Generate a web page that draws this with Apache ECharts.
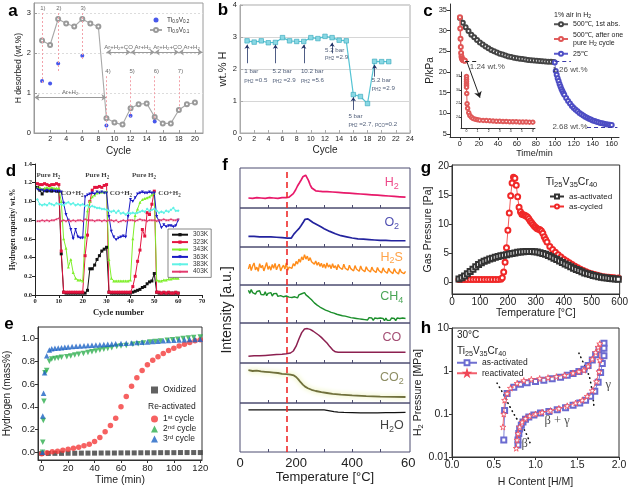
<!DOCTYPE html>
<html>
<head>
<meta charset="utf-8">
<script src="https://cdn.jsdelivr.net/npm/echarts@6.0.0/dist/echarts.min.js"></script>
<style>
html,body{margin:0;padding:0;background:#fff;}
#chart{width:631px;height:490px;}
</style>
</head>
<body>
<div id="chart"></div>
<script>
const FONT = '"Liberation Sans", Arial, Helvetica, sans-serif';
const SERIF = '"Liberation Serif", "Times New Roman", serif';
const STAR = 'path://M50,0L61,35L98,35L68,57L79,91L50,70L21,91L32,57L2,35L39,35Z';

/* ================= DATA ================= */
// ---- a ----
const aCycle = [1,2,3,4,5,6,7,8,9,10,11,12,13,14,15,16,17,18,19,20];
const aTiV01 = [2.31,2.20,2.85,2.74,2.66,2.85,2.74,2.66,0.37,0.26,0.21,0.62,0.72,0.74,0.40,0.24,0.24,0.575,0.72,0.76];
const aTiV02Cycle = [1,2,3,6,9,12,15];
const aTiV02 = [1.30,1.24,1.74,1.93,0.19,0.43,0.29];
const aXTicks = [2,4,6,8,10,12,14,16,18,20];
const aYTicks = [0,1,2,3];
const aCycleMarks = [[1,3.0,1.2],[3,3.0,1.5],[6,3.0,1.8],[9,1.42,0.04],[12,1.42,0.4],[15,1.42,0.33],[18,1.42,0.58]];
const aGasArrows = [[0.05,9,0.89],[9,12,2.02],[12,15,2.02],[15,18,2.02],[18,20.95,2.02]];
const aNotes = [[1.1,3.12,'1)'],[3.1,3.12,'2)'],[6.1,3.12,'3)'],[9.2,1.53,'4)'],[12.2,1.53,'5)'],[15.2,1.53,'6)'],[18.2,1.53,'7)'],
  [4.5,1.02,'Ar+H{s|2}'],[10.5,2.15,'Ar+H{s|2}+CO'],[13.5,2.15,'Ar+H{s|2}'],[16.6,2.15,'Ar+H{s|2}+CO'],[19.6,2.15,'Ar+H{s|2}']];

// ---- b ----
const bCycle = [1,2,3,4,5,6,7,8,9,10,11,12,13,14,15,16,17,18,19,20,21];
const bWtH = [2.88,2.84,2.88,2.82,2.83,2.98,2.88,2.86,2.86,2.98,2.95,3.02,2.98,2.90,2.88,1.20,1.14,0.92,2.24,2.23,2.23];
const bArrows = [[1,2.18,2.76],[5,2.18,2.76],[9,2.18,2.76],[13,2.49,2.82],[16,0.72,1.12],[19,1.76,2.13]];
const bNotes = [[0.6,1.94,'1 bar','left'],[0.6,1.66,'p{s|H2} =0.5','left'],
  [4.6,1.94,'5.2 bar','left'],[4.6,1.66,'p{s|H2} =2.9','left'],
  [8.6,1.94,'10.2 bar','left'],[8.6,1.66,'p{s|H2} =5.6','left'],
  [12.0,2.58,'5.2 bar','left'],[12.0,2.37,'p{s|H2} =2.9','left'],
  [15.3,0.51,'5 bar','left'],[15.3,0.28,'p{s|H2} =2.7, p{s|CO}=0.2','left'],
  [18.6,1.66,'5.2 bar','left'],[18.6,1.40,'p{s|H2} =2.9','left']];

// ---- c ----
const cAbs1st = [[0,33.0],[3,31.9],[6,30.8],[9,29.9],[12,29.0],[15,28.35],[18,27.7],[21,27.1],[24,26.6],[27,26.15],[30,25.7],[33,25.3],[36,25.0],[39,24.7],[42,24.4],[45,24.2],[48,23.95],[51,23.75],[54,23.6],[57,23.45],[60,23.3],[63,23.2],[66,23.1],[69,22.98],[72,22.9],[75,22.82],[78,22.75],[81,22.68],[84,22.62],[87,22.57],[90,22.52],[93,22.48],[96,22.45],[99,22.42]];
const cAfterCycle = [[0,33.2],[0.3,30.5],[0.6,28.0],[0.9,26.0],[1.2,24.6],[1.6,23.7],[2.0,23.3],[2.6,23.0],[3.2,22.9],[3.8,22.8],[4.5,22.75],[5.2,22.7]];
const c25C = [[100,22.3],[101,20.2],[102,19.3],[103,18.5],[104,17.8],[105,17.1],[106,16.5],[107,15.9],[108,15.4],[109,14.9],[110,14.5],[112,13.7],[114,13.0],[116,12.4],[118,11.8],[120,11.3],[122,10.9],[124,10.5],[126,10.1],[128,9.8],[130,9.5],[132,9.2],[134,8.95],[136,8.7],[138,8.5],[140,8.3],[142,8.15],[144,8.0],[146,7.85],[148,7.7],[150,7.6],[152,7.5],[154,7.4],[156,7.3],[158,7.25],[160,7.2]];
const cInset = [[0,33.0],[0,32.4],[0,31.9],[0,31.4],[0,31.0],[0,30.6],[0.02,29.2],[0.05,26.9],[0.1,25.9],[0.2,24.9],[0.3,24.3],[0.45,23.9],[0.6,23.6],[0.8,23.45],[1.0,23.35],[1.2,23.25],[1.5,23.2],[1.8,23.15],[2.1,23.1],[2.4,23.05],[2.7,23.0],[3.0,23.0],[3.3,22.95],[3.6,22.95],[3.9,22.9],[4.2,22.9],[4.5,22.9],[4.8,22.85],[5.1,22.85],[5.4,22.85],[5.7,22.8],[6.0,22.8]];
const cXTicks = [0,20,40,60,80,100,120,140,160];
const cYTicks = [5,10,15,20,25,30,35];
const cInsetXTicks = [0,1,2,3,4,5,6];
const cInsetYTicks = [24,27,30,33];
const cDashes = [[5.5,18,22.7,'#222'],[100.5,117,22.5,'#3a3aa8'],[134,166,6.6,'#3a3aa8']];
const cArrow = [[7.1,22.6],[21.1,13.8]];
const cNotes = [[28.8,21.3,'1.24 wt.%'],[116,20.6,'1.26 wt.%'],[116,6.8,'2.68 wt.%']];

// ---- d ----
const d303 = [1.15,1.12,1.08,1.12,1.11,1.12,1.11,1.12,1.11,1.11, 0.44,0.03,0.02,0.02,0.02,0.02,0.02,0.02,0.02,0.02, 0.02,0.05,0.28,0.28,0.32,0.38,0.42,0.47,0.49,0.51, 0.03,0.02,0.02,0.02,0.02,0.02,0.02,0.02,0.02,0.02, 0.03,0.04,0.05,0.06,0.08,0.09,0.12,0.14,0.15,0.23, 0.03,0.02,0.02,0.02,0.02,0.02,0.02,0.02,0.02,0.02];
const d323 = [1.19,1.18,1.18,1.19,1.18,1.17,1.18,1.18,1.19,1.18, 0.47,0.03,0.03,0.03,0.03,0.03,0.03,0.03,0.03,0.03, 0.42,0.64,1.00,1.12,1.15,1.15,1.16,1.15,1.17,1.18, 0.03,0.03,0.03,0.03,0.03,0.03,0.03,0.03,0.03,0.03, 0.09,0.20,0.36,0.48,0.70,0.63,0.88,0.86,0.97,1.11, 0.03,0.03,0.02,0.03,0.02,0.03,0.02,0.02,0.03,0.02];
const d343 = [1.15,1.15,1.13,1.14,1.15,1.14,1.15,1.14,1.14,1.14, 1.00,0.60,0.50,0.30,0.38,0.24,0.18,0.16,0.16,0.15, 0.62,0.90,1.00,1.05,1.07,1.09,1.10,1.10,1.10,1.11, 0.38,0.18,0.15,0.15,0.15,0.15,0.15,0.15,0.15,0.16, 0.60,0.85,0.92,0.99,1.02,1.03,1.04,1.05,1.07,1.09, 0.16,0.15,0.15,0.16,0.16,0.17,0.17,0.18,0.18,0.18];
const d363 = [1.13,1.12,1.12,1.11,1.12,1.11,1.12,1.11,1.11,1.11, 1.10,0.98,0.86,0.80,0.70,0.60,0.70,0.62,0.61,0.61, 1.05,1.07,1.08,1.09,1.08,1.10,1.09,1.10,1.09,1.09, 0.84,0.68,0.62,0.59,0.61,0.62,0.63,0.62,0.84,1.02, 1.00,1.04,1.08,1.09,1.10,1.09,1.09,1.10,1.09,1.09, 0.84,0.79,0.72,0.75,0.73,0.74,0.74,0.73,0.74,0.80];
const d383 = [1.02,0.97,0.96,0.97,0.96,0.98,0.97,0.96,0.98,0.97, 0.97,0.96,0.98,0.99,0.97,0.98,0.96,0.97,0.96,0.97, 0.95,0.96,0.94,0.95,0.94,0.93,0.93,0.92,0.92,0.91, 0.90,0.89,0.90,0.88,0.90,0.87,0.88,0.86,0.88,0.87, 0.88,0.87,0.88,0.89,0.90,0.89,0.92,0.90,0.91,0.92, 0.90,0.88,0.89,0.88,0.90,0.89,0.91,0.93,0.90,0.90];
const d403 = [0.79,0.79,0.80,0.79,0.80,0.79,0.80,0.80,0.81,0.82, 0.79,0.80,0.79,0.80,0.79,0.80,0.79,0.80,0.80,0.79, 0.81,0.80,0.80,0.80,0.79,0.80,0.80,0.79,0.80,0.79, 0.80,0.80,0.79,0.80,0.78,0.79,0.80,0.79,0.80,0.80, 0.80,0.79,0.80,0.81,0.80,0.80,0.79,0.80,0.80,0.80, 0.79,0.80,0.80,0.81,0.80,0.80,0.81,0.80,0.80,0.81];
const dNotes = [[5.6,1.28,'Pure H{s|2}'],[26.1,1.28,'Pure H{s|2}'],[45.7,1.28,'Pure H{s|2}'],[15.6,1.087,'CO+H{s|2}'],[36.0,1.087,'CO+H{s|2}'],[56.4,1.087,'CO+H{s|2}']];

// ---- e ----
const eOxT = [0,5,10,15,20,25,30,35,40,45,50,55,60,65,70,75,80,85,90,95,100,105,110,115,120];
const eOx = [-0.010,-0.010,-0.009,-0.009,-0.008,-0.008,-0.007,-0.007,-0.007,-0.006,-0.006,-0.006,-0.005,-0.005,-0.005,-0.004,-0.004,-0.004,-0.003,-0.003,-0.003,-0.002,-0.002,-0.002,-0.002];
const e1stT = [0,4,8,12,16,20,24,28,32,36,40,44,48,52,56,60,64,68,72,76,80,84,88,92,96,100,104,108,112,116,120];
const e1st = [-0.012,-0.004,0.004,0.010,0.018,0.026,0.035,0.045,0.057,0.072,0.095,0.13,0.18,0.235,0.30,0.40,0.49,0.58,0.655,0.72,0.77,0.81,0.84,0.87,0.895,0.915,0.935,0.95,0.965,0.98,0.99];
const e2nd = [[0.6,0.0],[0.8,0.088],[1.2,0.28],[1.7,0.45],[2.5,0.70],[3.8,0.72],[5.8,0.80],[7.6,0.82],[10,0.825],[12.5,0.83],[15,0.835],[19,0.84],[22,0.848],[25,0.856],[28,0.863],[31.6,0.87],[35,0.878],[38,0.885],[41,0.892],[44,0.90],[47,0.907],[50,0.913],[53,0.92],[56.8,0.93],[60,0.934],[64,0.94],[69,0.95],[73,0.955],[77,0.962],[82,0.97],[86,0.974],[90,0.978],[95,0.985],[99,0.99],[103,0.995],[107,1.0],[111,1.005],[115,1.01],[120,1.015]];
const e3rd = [[0.6,0.0],[0.8,0.32],[1.4,0.52],[2.2,0.70],[3.8,0.85],[5.8,0.90],[7.6,0.91],[10,0.915],[12.5,0.918],[15,0.92],[17.5,0.923],[20,0.927],[23,0.93],[26,0.932],[29,0.935],[32,0.937],[35,0.94],[38,0.942],[41,0.944],[44,0.947],[47,0.949],[50,0.951],[53,0.953],[56,0.955],[60,0.957],[64,0.96],[68,0.962],[72,0.965],[76,0.968],[80,0.971],[84,0.974],[88,0.977],[92,0.98],[96,0.983],[100,0.985],[104,0.987],[108,0.989],[112,0.991],[116,0.993],[120,0.994]];
const eXTicks = [0,20,40,60,80,100,120];
const eYTicks = [0,0.2,0.4,0.6,0.8,1.0];

// ---- f (normalised intensity, each gas) ----
const fH2 = [[30,0.25],[45,0.24],[60,0.26],[75,0.25],[90,0.24],[105,0.26],[120,0.25],[135,0.24],[150,0.26],[165,0.26],[175,0.27],[182,0.30],[190,0.36],[198,0.45],[205,0.55],[212,0.63],[218,0.70],[224,0.78],[229,0.83],[234,0.82],[239,0.77],[244,0.69],[250,0.58],[256,0.50],[262,0.46],[270,0.43],[280,0.42],[295,0.41],[310,0.41],[330,0.40],[350,0.39],[370,0.38],[390,0.37],[410,0.36],[430,0.35],[450,0.34],[470,0.33],[490,0.32],[510,0.31],[530,0.30],[550,0.29],[570,0.28],[590,0.27]];
const fO2 = [[30,0.27],[50,0.27],[70,0.26],[90,0.26],[110,0.26],[130,0.25],[150,0.24],[170,0.23],[183,0.23],[188,0.26],[192,0.33],[196,0.37],[202,0.41],[210,0.47],[218,0.55],[226,0.64],[232,0.71],[237,0.74],[242,0.72],[250,0.68],[260,0.63],[270,0.59],[280,0.55],[290,0.51],[300,0.47],[320,0.40],[340,0.34],[360,0.29],[380,0.26],[400,0.23],[420,0.21],[440,0.20],[460,0.19],[480,0.18],[500,0.17],[520,0.17],[540,0.16],[560,0.16],[590,0.16]];
const fH2S = [0.42,0.55,0.38,0.50,0.58,0.40,0.47,0.36,0.56,0.45, 0.52,0.37,0.48,0.59,0.41,0.50,0.39,0.54,0.44,0.57, 0.40,0.49,0.55,0.37,0.46,0.52,0.42,0.58,0.39,0.47, 0.51,0.44,0.56,0.50,0.62,0.55,0.68,0.60,0.74,0.66, 0.80,0.68,0.76,0.64,0.72,0.61,0.66,0.55,0.63,0.52, 0.60,0.49,0.57,0.46,0.55,0.44,0.58,0.47,0.53,0.43, 0.56,0.45,0.51,0.40,0.54,0.46,0.50,0.41,0.55,0.44, 0.49,0.39,0.52,0.43,0.47,0.37,0.51,0.42,0.46,0.36, 0.50,0.41,0.45,0.35,0.48,0.40,0.44,0.34,0.47,0.39, 0.43,0.33,0.46,0.38,0.42,0.32,0.45,0.37,0.41,0.31, 0.44,0.36,0.40,0.30,0.43,0.35,0.39,0.29,0.42,0.34, 0.38,0.30,0.36];
const fCH4 = [0.86,0.78,0.88,0.80,0.84,0.76,0.83,0.79,0.85,0.75, 0.80,0.74,0.82,0.72,0.78,0.75,0.80,0.71,0.77,0.73, 0.78,0.70,0.75,0.72,0.77,0.69,0.74,0.71,0.76,0.68, 0.73,0.67,0.72,0.69,0.71,0.66,0.74,0.70,0.77,0.72, 0.80,0.74,0.76,0.68,0.66,0.61,0.60,0.53,0.55,0.47, 0.50,0.42,0.45,0.38,0.41,0.34,0.38,0.31,0.35,0.28, 0.32,0.26,0.30,0.23,0.28,0.21,0.26,0.19,0.24,0.18, 0.22,0.16,0.21,0.14,0.19,0.13,0.18,0.12,0.17,0.11, 0.16,0.10,0.15,0.09,0.14,0.08,0.14,0.09,0.13,0.07, 0.13,0.08,0.12,0.07,0.13,0.08,0.12,0.06,0.13,0.07, 0.12,0.07,0.13,0.08,0.12,0.06,0.13,0.08,0.12,0.07, 0.13,0.08,0.12];
const fNoisyStart = 30, fNoisyStep = 5;
const fCO = [[30,0.17],[50,0.18],[70,0.18],[90,0.19],[110,0.20],[130,0.21],[150,0.22],[165,0.23],[180,0.25],[190,0.30],[200,0.42],[210,0.60],[220,0.76],[230,0.85],[240,0.86],[250,0.84],[260,0.80],[270,0.75],[280,0.70],[290,0.64],[300,0.57],[310,0.50],[320,0.41],[330,0.33],[340,0.28],[350,0.27],[370,0.27],[400,0.27],[450,0.27],[500,0.27],[550,0.27],[590,0.27]];
const fCO2 = [[30,0.82],[45,0.80],[60,0.81],[75,0.79],[90,0.78],[105,0.77],[120,0.76],[135,0.75],[150,0.73],[165,0.72],[180,0.71],[192,0.69],[200,0.65],[208,0.59],[216,0.52],[224,0.46],[232,0.41],[242,0.37],[255,0.33],[270,0.30],[290,0.27],[310,0.25],[330,0.23],[360,0.21],[400,0.19],[450,0.17],[500,0.16],[550,0.155],[590,0.15]];
const fH2O = [[30,0.86],[100,0.86],[200,0.86],[300,0.86],[310,0.85],[320,0.84],[335,0.825],[350,0.815],[370,0.81],[400,0.805],[430,0.80],[460,0.80],[490,0.80],[520,0.805],[550,0.805],[590,0.81]];
const fOnset = 167;
const fGasLabels = ['H{s|2}','O{s|2}','H{s|2}S','CH{s|4}','CO','CO{s|2}','H{s|2}O'];
const fLabelY = [0.63,0.63,0.73,0.69,0.63,0.63,0.54];
const fXTicks = [0,200,400,600];

// ---- g ----
const gActT = [25,35,45,55,65,75,85,95,105,115,125,135,145,155,165,175,185,195,205,215,225,235,245,255,265,275,285,295,305,315,325,335,345,355,365,375,385,395,405,415,425,435,445,455,465,475,485,495,505,515,525,535,545,555,565,575,585,595];
const gAct = [0.6,0.8,1.1,1.5,1.9,2.3,2.7,3.1,3.4,3.65,3.85,4.05,4.2,4.35,4.5,4.6,4.7,4.8,4.9,5.0,5.1,5.2,5.25,5.3,5.35,5.35,5.35,5.3,5.25,5.15,5.0,4.85,4.65,4.45,4.2,3.95,3.7,3.45,3.2,2.95,2.7,2.45,2.25,2.05,1.85,1.65,1.5,1.35,1.2,1.1,1.0,0.9,0.8,0.75,0.7,0.65,0.6,0.55];
const gCycled = [[25,0.5],[35,0.5],[45,0.5],[55,0.5],[65,0.5],[75,0.5],[85,0.5],[95,0.5],[105,0.5],[115,0.5],[125,0.5],[135,0.5],[145,0.5],[155,0.5],[165,0.5],[175,0.55],[180,0.8],[185,1.8],[190,3.5],[195,6.0],[200,9.0],[205,12.0],[210,15.0],[215,17.2],[220,18.2],[225,18.0],[230,16.8],[235,14.8],[240,13.0],[245,12.2],[250,11.8],[255,11.7],[260,11.6],[265,11.5],[270,11.3],[275,11.0],[280,10.6],[285,10.3],[290,10.0],[295,9.7],[300,9.5],[305,9.3],[310,9.2],[315,9.1],[320,8.9],[325,8.5],[330,7.9],[335,7.4],[340,7.0],[350,6.2],[360,5.7],[370,5.2],[380,4.8],[390,4.4],[400,4.0],[410,3.7],[420,3.4],[430,3.1],[440,2.8],[450,2.55],[460,2.3],[470,2.05],[480,1.85],[490,1.65],[500,1.5],[510,1.35],[520,1.22],[530,1.1],[540,1.0],[550,0.95],[560,0.9],[570,0.85],[580,0.8],[595,0.75]];
const gYTicks = [0,5,10,15,20];

// ---- h ----
const hActivated = [[0.62,0.025],[0.63,0.12],[0.66,0.30],[0.74,0.42],[0.82,0.49],[0.90,0.53],[1.00,0.57],[1.10,0.61],[1.20,0.66],[1.30,0.72],[1.38,0.80],[1.45,0.88],[1.52,0.97],[1.58,1.10],[1.63,1.35],[1.68,1.80],[1.72,2.40],[1.76,3.10],[1.80,3.60],[1.82,4.40],[1.82,3.40],[1.82,2.25],[1.80,1.50],[1.78,0.92],[1.75,0.55],[1.71,0.34],[1.66,0.26],[1.60,0.21],[1.53,0.18],[1.45,0.16],[1.36,0.14],[1.26,0.125],[1.16,0.115],[1.06,0.105],[0.98,0.095],[0.92,0.085],[0.88,0.075],[0.85,0.065],[0.83,0.055],[0.81,0.045],[0.80,0.035],[0.79,0.025],[0.79,0.019]];
const hReactivated = [[0.61,0.05],[0.62,0.10],[0.63,0.21],[0.66,0.30],[0.70,0.40],[0.78,0.52],[0.86,0.60],[0.95,0.64],[1.05,0.67],[1.15,0.70],[1.25,0.74],[1.35,0.80],[1.45,0.90],[1.52,0.97],[1.58,1.05],[1.63,1.30],[1.68,1.90],[1.72,2.70],[1.75,3.60],[1.77,4.30],[1.77,1.80],[1.76,0.97],[1.73,0.57],[1.68,0.35],[1.62,0.26],[1.56,0.21],[1.48,0.18],[1.38,0.155],[1.28,0.135],[1.18,0.12],[1.08,0.11],[1.00,0.10],[0.93,0.09],[0.88,0.078],[0.84,0.065],[0.81,0.05],[0.79,0.035],[0.78,0.025],[0.77,0.016]];
const hBoundL = [[0.54,0.52],[0.62,0.28],[0.70,0.14],[0.78,0.075],[0.86,0.045],[0.94,0.02]];
const hBoundR = [[1.52,2.6],[1.57,1.6],[1.62,1.0],[1.66,0.55],[1.70,0.15]];
const hNotes = [[1.87,0.47,'γ'],[1.26,0.071,'β + γ'],[0.87,0.0207,'β']];

/* ================= HELPERS ================= */
function isObj(v){return v && typeof v==='object' && !Array.isArray(v);}
function mg(a,b){const o=Object.assign({},a);for(const k in b){o[k]=(isObj(a[k])&&isObj(b[k]))?mg(a[k],b[k]):b[k];}return o;}
function zip(xs,ys){return xs.map((x,i)=>[x,ys[i]]);}
function sub(fs,fam,col,w){
  const f=+(fs*0.72).toFixed(2);
  const base={fontSize:f,lineHeight:f,fontFamily:fam,color:col,fill:col,fontWeight:w||'normal'};
  return {s:Object.assign({verticalAlign:'bottom'},base),u:Object.assign({verticalAlign:'top'},base)};
}
function axisBase(gi,fs,col,fam,weight){
  return {gridIndex:gi,type:'value',
    axisLine:{show:true,onZero:false,lineStyle:{color:col,width:1}},
    axisTick:{show:true,inside:false,length:3,lineStyle:{color:col,width:1}},
    axisLabel:{show:true,fontFamily:fam||FONT,fontSize:fs,color:'#222',margin:3,fontWeight:weight||'normal'},
    splitLine:{show:false},nameLocation:'middle',
    nameTextStyle:{fontFamily:fam||FONT,fontSize:10,color:'#222',fontWeight:weight||'normal'}};
}
function cv(arr){return {axisLabel:{customValues:arr},axisTick:{customValues:arr}};}
function annot(gi,items,fs,col,fam,weight){
  return {type:'scatter',xAxisIndex:gi,yAxisIndex:gi,silent:true,symbolSize:0,z:6,
    data:items.map(it=>({value:[it[0],it[1]],name:it[2],label:{align:it[3]||'center'}})),
    label:{show:true,position:'inside',formatter:p=>p.name,fontFamily:fam||FONT,fontSize:fs,color:col,
      fontWeight:weight||'normal',lineHeight:fs*1.3,rich:sub(fs,fam||FONT,col,weight)},
    emphasis:{disabled:true},tooltip:{show:false}};
}

/* ================= LAYOUT ================= */
const fTop=[168,208,247,285,323,363,403], fHgt=[40,39,38,38,40,40,49];
const grids=[
  {left:34,top:3,width:169,height:130,show:true,borderColor:'#9a9a9a',borderWidth:1},   //0 a
  {left:240,top:5,width:170,height:128,show:true,borderColor:'#aaaaaa',borderWidth:1},  //1 b
  {left:450,top:4,width:169,height:133},                                               //2 c
  {left:461,top:72,width:74,height:56},                                                //3 c inset
  {left:35,top:164,width:167,height:131},                                              //4 d
  {left:38,top:327,width:164,height:133,show:true,borderColor:'#333',borderWidth:1}     //5 e
];
for(let i=0;i<7;i++) grids.push({left:240,top:fTop[i],width:170,height:fHgt[i],show:true,borderColor:'#4d4d70',borderWidth:1});
grids.push({left:452,top:165,width:168,height:129,show:true,borderColor:'#333',borderWidth:1}); //13 g
grids.push({left:452,top:328,width:167,height:129,show:true,borderColor:'#333',borderWidth:1}); //14 h

const xAxes=[], yAxes=[];
// a
xAxes.push(mg(mg(axisBase(0,7,'#9a9a9a'),cv(aXTicks)),{min:0,max:21,axisTick:{inside:true},name:'Cycle',nameGap:13,nameTextStyle:{fontSize:10}}));
yAxes.push(mg(mg(axisBase(0,7.5,'#9a9a9a'),cv(aYTicks)),{min:0,max:3.25,interval:1,axisTick:{inside:true},splitLine:{show:true,lineStyle:{color:'#dcdcdc',type:[2,2]}},name:'H desorbed (wt.%)',nameGap:9,nameTextStyle:{fontSize:8.5}}));
// b
xAxes.push(mg(axisBase(1,7,'#aaaaaa'),{min:0,max:24,interval:2,axisTick:{inside:true},name:'Cycle',nameGap:12,nameTextStyle:{fontSize:10}}));
yAxes.push(mg(axisBase(1,7.5,'#aaaaaa'),{min:0,max:4,interval:1,axisTick:{inside:true},splitLine:{show:true,lineStyle:{color:'#d6d6d6',width:1}},name:'wt.% H',nameGap:9,nameTextStyle:{fontSize:11}}));
// c
xAxes.push(mg(mg(axisBase(2,7.5,'#333'),cv(cXTicks)),{min:-10.5,max:167.7,name:'Time/min',nameGap:10,nameTextStyle:{fontSize:9}}));
yAxes.push(mg(mg(axisBase(2,7.5,'#333'),cv(cYTicks)),{min:4.3,max:36.4,name:'P/kPa',nameGap:13,nameTextStyle:{fontSize:10}}));
// c inset
xAxes.push(mg(mg(axisBase(3,3.5,'#333'),cv(cInsetXTicks)),{min:-0.5,max:6.2,axisTick:{length:1.5},axisLabel:{margin:1}}));
yAxes.push(mg(mg(axisBase(3,3.5,'#333'),cv(cInsetYTicks)),{min:21.5,max:34,axisTick:{length:1.5},axisLabel:{margin:1}}));
// d
xAxes.push(mg(axisBase(4,6.5,'#222',SERIF,'bold'),{min:0,max:70,interval:10,name:'Cycle number',nameGap:13,nameTextStyle:{fontSize:8.5}}));
yAxes.push(mg(axisBase(4,6.5,'#222',SERIF,'bold'),{min:0,max:1.4,interval:0.2,axisLabel:{formatter:v=>v.toFixed(1)},name:'Hydrogen capacity/ wt.%',nameGap:18,nameTextStyle:{fontSize:7.5}}));
// e
xAxes.push(mg(mg(axisBase(5,9.5,'#333'),cv(eXTicks)),{min:-2.8,max:121.3,name:'Time (min)',nameGap:15,nameTextStyle:{fontSize:10.5}}));
yAxes.push(mg(mg(axisBase(5,9.5,'#333'),cv(eYTicks)),{min:-0.0675,max:1.102,axisLabel:{formatter:v=>v.toFixed(1)},name:'Hydrogen (mass%)',nameGap:26,nameTextStyle:{fontSize:10}}));
// f
for(let i=0;i<7;i++){
  const last=i===6;
  xAxes.push({gridIndex:6+i,type:'value',min:0,max:606,
    axisLine:{show:false},
    axisTick:{show:true,inside:true,length:3,customValues:[100,200,300,400,500],lineStyle:{color:'#4d4d70'}},
    axisLabel:{show:last,customValues:fXTicks,formatter:v=>(v===600?'60':String(v)),fontFamily:FONT,fontSize:13,color:'#222',margin:5},
    splitLine:{show:false},name:last?'Temperature [°C]':'',nameLocation:'middle',nameGap:19,
    nameTextStyle:{fontFamily:FONT,fontSize:13,color:'#222'}});
  yAxes.push({gridIndex:6+i,type:'value',min:0,max:1,show:false});
}
// g
xAxes.push(mg(axisBase(13,10,'#333'),{min:0,max:600,interval:100,name:'Temperature [°C]',nameGap:14,nameTextStyle:{fontSize:10.5}}));
yAxes.push(mg(mg(axisBase(13,10,'#333'),cv(gYTicks)),{min:-2,max:20.3,name:'Gas Pressure [Pa]',nameGap:17,nameTextStyle:{fontSize:10.5}}));
// h
xAxes.push(mg(axisBase(14,10.5,'#333'),{min:0,max:2,interval:0.5,axisLabel:{formatter:v=>v.toFixed(1)},name:'H Content [H/M]',nameGap:20,nameTextStyle:{fontSize:10.5}}));
yAxes.push(mg(axisBase(14,10.5,'#333'),{type:'log',logBase:10,min:0.01,max:10,name:'H{s|2} Pressure [MPa]',nameGap:21,nameTextStyle:{fontSize:10.5,lineHeight:13,rich:sub(10.5,FONT,'#222')}}));

/* ================= SERIES ================= */
const series=[];
// a
series.push({name:'Ti0.9V0.2',type:'scatter',xAxisIndex:0,yAxisIndex:0,data:zip(aTiV02Cycle,aTiV02),symbol:'circle',symbolSize:4,itemStyle:{color:'#1a2ee6'},z:4,
  markLine:{silent:true,symbol:['arrow','arrow'],symbolSize:5,label:{show:false},lineStyle:{color:'#9a9a9a',type:'solid',width:1},emphasis:{disabled:true},
    data:aGasArrows.map(r=>[{coord:[r[0],r[2]]},{coord:[r[1],r[2]]}])}});
series.push({name:'Ti0.9V0.1',type:'line',xAxisIndex:0,yAxisIndex:0,data:zip(aCycle,aTiV01),symbol:'emptyCircle',symbolSize:4,
  lineStyle:{color:'#a8a8a8',width:1.1},itemStyle:{color:'#9a9a9a',borderWidth:0.7},z:3,
  markLine:{silent:true,symbol:['none','none'],label:{show:false},lineStyle:{color:'#f2a2aa',type:[2,2],width:1},emphasis:{disabled:true},
    data:aCycleMarks.map(r=>[{coord:[r[0],r[1]]},{coord:[r[0],r[2]]}])}});
series.push(annot(0,aNotes,6,'#444'));
// b
series.push({name:'b-wtH',type:'line',xAxisIndex:1,yAxisIndex:1,data:zip(bCycle,bWtH),symbol:'rect',symbolSize:4.5,
  lineStyle:{color:'#55c4d4',width:1.2},itemStyle:{color:'#8ad8e4',borderColor:'#2fa5b8',borderWidth:0.6},
  markLine:{silent:true,symbol:['none','arrow'],symbolSize:4,label:{show:false},lineStyle:{color:'#223366',type:'solid',width:0.8},emphasis:{disabled:true},
    data:bArrows.map(r=>[{coord:[r[0],r[1]]},{coord:[r[0],r[2]]}])}});
series.push(annot(1,bNotes,6.2,'#223355'));
// c
series.push({name:'500℃, 1st abs.',type:'line',xAxisIndex:2,yAxisIndex:2,data:cAbs1st,symbol:'emptyCircle',symbolSize:4,
  lineStyle:{color:'#555',width:0.6},itemStyle:{color:'#444',borderWidth:0.7},z:3,
  markLine:{silent:true,symbol:['none','none'],label:{show:false},emphasis:{disabled:true},
    data:cDashes.map(r=>[{coord:[r[0],r[2]],lineStyle:{color:r[3],type:[4,3],width:1.2}},{coord:[r[1],r[2]]}])}});
series.push({name:'500℃, after one pure H₂ cycle',type:'line',xAxisIndex:2,yAxisIndex:2,data:cAfterCycle,symbol:'emptyCircle',symbolSize:4,
  lineStyle:{color:'#e06060',width:1.5},itemStyle:{color:'#e05555',borderWidth:0.7},z:4});
series.push({name:'25℃',type:'line',xAxisIndex:2,yAxisIndex:2,data:c25C,symbol:'emptyCircle',symbolSize:4,
  lineStyle:{color:'#5a5acc',width:0.8},itemStyle:{color:'#4d4dc4',borderWidth:0.7},z:3,
  markLine:{silent:true,symbol:['none','arrow'],symbolSize:6,label:{show:false},lineStyle:{color:'#222',type:'solid',width:1},emphasis:{disabled:true},
    data:[[{coord:cArrow[0]},{coord:cArrow[1]}]]}});
series.push({name:'c-inset',type:'line',xAxisIndex:3,yAxisIndex:3,data:cInset,symbol:'emptyCircle',symbolSize:3.5,
  lineStyle:{color:'#e06060',width:1},itemStyle:{color:'#e05a5a',borderWidth:0.7},z:4});
series.push(annot(2,cNotes,8,'#222'));
// d
const dCycle=d303.map((_,i)=>i+1);
const dDefs=[['303K',d303,'#111111','rect',0],['323K',d323,'#e3143f','rect',0],['343K',d343,'#7fef2a','triangle',0],
             ['363K',d363,'#1a1ac4','triangle',180],['383K',d383,'#5ff2e6','diamond',0],['403K',d403,'#e23a6e',STAR,0]];
dDefs.forEach(dd=>series.push({name:dd[0],type:'line',xAxisIndex:4,yAxisIndex:4,data:zip(dCycle,dd[1]),symbol:dd[3],symbolRotate:dd[4],symbolSize:3,
  lineStyle:{color:dd[2],width:1},itemStyle:{color:dd[2]}}));
series.push(annot(4,dNotes,7,'#111',SERIF,'bold'));
// e
series.push({name:'Oxidized',type:'scatter',xAxisIndex:5,yAxisIndex:5,data:zip(eOxT,eOx),symbol:'rect',symbolSize:5,itemStyle:{color:'#3a3a3a'}});
series.push({name:'1st cycle',type:'scatter',xAxisIndex:5,yAxisIndex:5,data:zip(e1stT,e1st),symbol:'circle',symbolSize:5.5,itemStyle:{color:'#f43a3a'}});
series.push({name:'2nd cycle',type:'scatter',xAxisIndex:5,yAxisIndex:5,data:e2nd,symbol:'triangle',symbolRotate:180,symbolSize:5.5,itemStyle:{color:'#2eae4e'}});
series.push({name:'3rd cycle',type:'scatter',xAxisIndex:5,yAxisIndex:5,data:e3rd,symbol:'triangle',symbolSize:5.5,itemStyle:{color:'#1d63c4'}});
// f
const fSets=[
  [fH2,'#e8196a',1.7,null],
  [fO2,'#23239e',1.7,null],
  [fH2S.map((v,i)=>[fNoisyStart+fNoisyStep*i,v]),'#ff8c1a',1.4,null],
  [fCH4.map((v,i)=>[fNoisyStart+fNoisyStep*i,v]),'#1c8f2c',1.4,null],
  [fCO,'#8c2050',1.5,null],
  [fCO2,'#70703c',1.8,'#dfe98a'],
  [fH2O,'#111111',1.3,null]];
fSets.forEach((fs,i)=>{
  series.push({name:'f-'+i,type:'line',xAxisIndex:6+i,yAxisIndex:6+i,data:fs[0],showSymbol:false,symbol:'none',
    lineStyle:Object.assign({color:fs[1],width:fs[2]},fs[3]?{shadowColor:fs[3],shadowBlur:5}:{}),
    markLine:{silent:true,symbol:['none','none'],label:{show:false},emphasis:{disabled:true},lineStyle:{color:'#ee2a2a',type:[6,4],width:1.6},data:[{xAxis:fOnset}]}});
  series.push(annot(6+i,[[541,fLabelY[i],fGasLabels[i]]],12.5,fs[1]));
});
// g
series.push({name:'g-as-activated',type:'line',xAxisIndex:13,yAxisIndex:13,data:zip(gActT,gAct),symbol:'emptyRect',symbolSize:5,
  lineStyle:{color:'#333',width:0.8},itemStyle:{color:'#333',borderWidth:0.8},z:3});
series.push({name:'g-as-cycled',type:'line',xAxisIndex:13,yAxisIndex:13,data:gCycled,symbol:'emptyCircle',symbolSize:5,
  lineStyle:{color:'#f03030',width:0.8},itemStyle:{color:'#f02828',borderWidth:0.8},z:2});
// h
series.push({name:'h-as-activated',type:'line',xAxisIndex:14,yAxisIndex:14,data:hActivated,symbol:'emptyRect',symbolSize:5,
  lineStyle:{color:'#7070d0',width:0.9},itemStyle:{color:'#6a6ad0',borderWidth:0.8},z:3});
series.push({name:'h-reactivated',type:'line',xAxisIndex:14,yAxisIndex:14,data:hReactivated,symbol:STAR,symbolSize:6,
  lineStyle:{color:'#f2606e',width:0.9},itemStyle:{color:'#ffffff',borderColor:'#f04656',borderWidth:0.8},z:4});
[hBoundL,hBoundR].forEach((b,i)=>series.push({name:'h-bound'+i,type:'line',xAxisIndex:14,yAxisIndex:14,data:b,symbol:'none',smooth:true,
  lineStyle:{color:'#111',width:1.6,type:[0.5,4],cap:'round'},z:2}));
series.push(annot(14,hNotes,12.5,'#222',SERIF));

/* ================= LEGENDS ================= */
const baseLeg={orient:'vertical',padding:0,selectedMode:false};
const legends=[
  Object.assign({},baseLeg,{left:149,top:16,itemGap:2,itemWidth:12,itemHeight:5,data:['Ti0.9V0.2','Ti0.9V0.1'],
    formatter:n=>({'Ti0.9V0.2':'Ti{s|0.9}V{s|0.2}','Ti0.9V0.1':'Ti{s|0.9}V{s|0.1}'})[n],
    textStyle:{fontFamily:FONT,fontSize:6.5,color:'#333',lineHeight:8,rich:sub(6.5,FONT,'#333')}}),
  Object.assign({},baseLeg,{left:553,top:20,itemGap:2,itemWidth:14,itemHeight:5,
    data:['500℃, 1st abs.','500℃, after one pure H₂ cycle','25℃'],
    formatter:n=>n==='500℃, after one pure H₂ cycle'?'500℃, after one\npure H{s|2} cycle':n,
    textStyle:{fontFamily:FONT,fontSize:7,color:'#222',lineHeight:8.5,rich:sub(7,FONT,'#222')}}),
  Object.assign({},baseLeg,{left:168,top:229,itemGap:0,itemWidth:16,itemHeight:4,padding:[2,3,2,3],
    borderColor:'#555',borderWidth:0.7,backgroundColor:'#fff',data:['303K','323K','343K','363K','383K','403K'],
    textStyle:{fontFamily:FONT,fontSize:6.5,color:'#333',lineHeight:7.4}}),
  Object.assign({},baseLeg,{left:151,top:385.5,itemWidth:7,itemHeight:7,data:['Oxidized'],
    textStyle:{fontFamily:FONT,fontSize:8.5,color:'#222',lineHeight:9}}),
  Object.assign({},baseLeg,{left:151,top:414.5,itemGap:1,itemWidth:7,itemHeight:7,data:['1st cycle','2nd cycle','3rd cycle'],
    formatter:n=>({'1st cycle':'1{u|st} cycle','2nd cycle':'2{u|nd} cycle','3rd cycle':'3{u|rd} cycle'})[n],
    textStyle:{fontFamily:FONT,fontSize:8.5,color:'#222',lineHeight:9,rich:sub(8.5,FONT,'#222')}}),
  Object.assign({},baseLeg,{left:549,top:192,itemGap:1,itemWidth:14,itemHeight:5,data:['g-as-activated','g-as-cycled'],
    formatter:n=>n.slice(2),textStyle:{fontFamily:FONT,fontSize:8,color:'#222',lineHeight:9}}),
  Object.assign({},baseLeg,{left:456,top:358,itemGap:1,itemWidth:20,itemHeight:6,data:['h-as-activated','h-reactivated'],
    formatter:n=>n.slice(2),textStyle:{fontFamily:FONT,fontSize:8.5,color:'#222',lineHeight:9.5}})
];

/* ================= GRAPHIC TEXT ================= */
const graphics=[];
[['a',13,11],['b',223,10],['c',428,11],['d',11,171],['e',9,324],['f',225,165],['g',426,168],['h',426,328]].forEach(l=>
  graphics.push({type:'text',x:l[1],y:l[2],z:100,style:{text:l[0],fontFamily:FONT,fontSize:17,fontWeight:'bold',fill:'#000',align:'center',verticalAlign:'middle'}}));
function gtext(txt,x,y,fs,opts){
  return Object.assign({type:'text',x:x,y:y,z:100,style:{text:txt,fontFamily:FONT,fontSize:fs,fill:'#222',align:'left',verticalAlign:'middle',lineHeight:fs*1.3,rich:sub(fs,FONT,'#222')}},opts||{});
}
graphics.push(gtext('1% air in H{s|2}',554,15,7));
graphics.push(gtext('Re-activated',148,407,8.5));
graphics.push(gtext('Intensity [a.u.]',227,310,14,{rotation:Math.PI/2}));
graphics[graphics.length-1].style.align='center';
graphics.push(gtext('Ti{s|25}V{s|35}Cr{s|40}',571.5,182,10.5));
graphics[graphics.length-1].style.align='center';
graphics.push(gtext('30°C',457,335,10));
graphics.push(gtext('Ti{s|25}V{s|35}Cr{s|40}',457,351,10));

const option={animation:false,textStyle:{fontFamily:FONT},grid:grids,xAxis:xAxes,yAxis:yAxes,legend:legends,series:series,graphic:graphics};
const chart=echarts.init(document.getElementById('chart'),null,{renderer:'canvas'});
chart.setOption(option);
</script>
</body>
</html>
